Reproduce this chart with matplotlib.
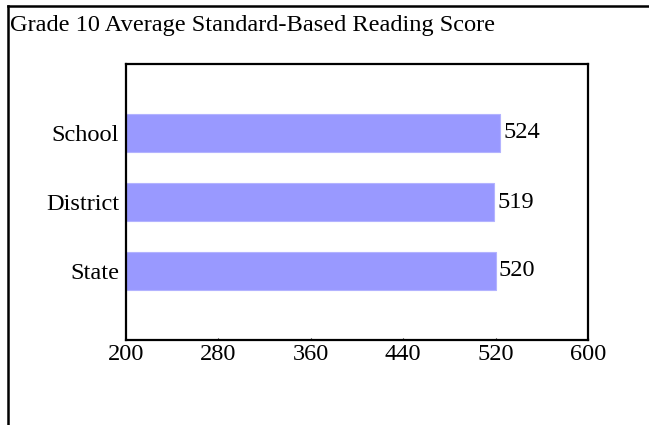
import matplotlib
matplotlib.use("Agg")
import matplotlib.pyplot as plt
from matplotlib.lines import Line2D

plt.rcParams['font.family'] = ['Liberation Serif', 'DejaVu Serif']

title = 'Grade 10 Average Standard-Based Reading Score'
groups = ['School', 'District', 'State']
scores = [524, 519, 520]
xticks = [200, 280, 360, 440, 520, 600]

W, H = 649, 425
FS = 17.6
fig = plt.figure(figsize=(W / 100, H / 100), dpi=100)

# plot area in pixels: x 126..588, y 64..340
ax = fig.add_axes([126 / W, 1 - 340 / H, (588 - 126) / W, (340 - 64) / H])

pos = [1, 2, 3]
ax.barh(pos, scores, height=0.55, left=0, color='#9999ff', edgecolor='#b3b3ff', linewidth=0.8)
for p, v in zip(pos, scores):
    ax.text(v + 2.5, p, str(v), va='center', ha='left', fontsize=FS)

ax.set_xlim(200, 600)
ax.set_ylim(4, 0)
ax.set_xticks(xticks)
ax.set_xticklabels([str(t) for t in xticks])
ax.set_yticks(pos)
ax.set_yticklabels(groups)
ax.tick_params(axis='x', direction='in', length=1.5, width=0.8, pad=3, labelsize=FS)
ax.tick_params(axis='y', length=0, pad=5, labelsize=FS)
for s in ax.spines.values():
    s.set_linewidth(1.6)

# outer frame: left and top lines
fig.add_artist(Line2D([8 / W, 8 / W], [0, 1 - 6 / H], color='black', linewidth=1.8))
fig.add_artist(Line2D([8 / W, 1], [1 - 6 / H, 1 - 6 / H], color='black', linewidth=1.8))

fig.text(10 / W, 1 - 26 / H, title, ha='left', va='center', fontsize=FS)

fig.savefig('out.png', dpi=100)
